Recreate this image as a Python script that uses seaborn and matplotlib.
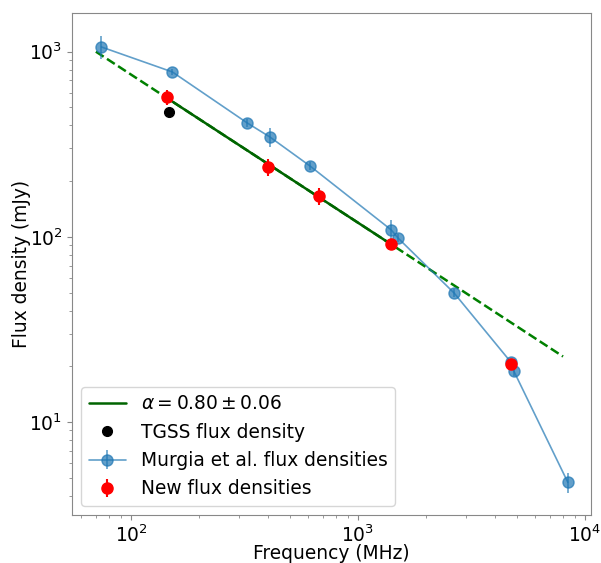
import numpy as np
import pandas as pd
import matplotlib
matplotlib.use("Agg")
import matplotlib.pyplot as plt
import seaborn as sns

# Murgia et al. flux densities
murgia_freq = [74, 152, 325, 409, 615, 1400, 1500, 2650, 4720, 4860, 8400]
murgia_flux = [1060, 777, 412, 346, 241, 109, 98.5, 49.7, 21.0, 18.8, 4.72]
murgia_err = [150, 30, 20, 40, 12, 15, 5, 2.5, 1.0, 1.0, 0.6]

# New flux densities
new_freq = [144, 401, 673, 1400, 4720]
new_flux = [569, 238, 166, 91.4, 20.5]
new_err = [55, 25, 17, 5, 1.2]

# TGSS
tgss_freq = [147]
tgss_flux = [472]

# Power-law fit
alpha = 0.80
fit_norm_freq = 70.0
fit_norm_flux = 1000.0
fit_dash_range = [70, 8000]
fit_solid_range = [147, 1400]

sns.set_style("ticks", rc={
    "axes.edgecolor": "#888888",
    "xtick.color": "#888888", "ytick.color": "#888888",
    "axes.labelcolor": "black", "text.color": "black",
    "xtick.major.size": 3.5, "ytick.major.size": 3.5,
    "xtick.minor.size": 2, "ytick.minor.size": 2,
    "xtick.major.pad": 3.5, "ytick.major.pad": 3.5,
})
plt.rcParams['font.family'] = ['DejaVu Sans']
fs = 13.4

fig, ax = plt.subplots(figsize=(6.01, 5.63), dpi=100)
fig.subplots_adjust(left=0.12, right=0.983, top=0.977, bottom=0.085)

def powerlaw(nu):
    return fit_norm_flux * (np.asarray(nu) / fit_norm_freq) ** (-alpha)

nu_d = np.logspace(np.log10(fit_dash_range[0]), np.log10(fit_dash_range[1]), 50)
nu_s = np.logspace(np.log10(fit_solid_range[0]), np.log10(fit_solid_range[1]), 50)
df_d = pd.DataFrame({"f": nu_d, "s": powerlaw(nu_d)})
df_s = pd.DataFrame({"f": nu_s, "s": powerlaw(nu_s)})

sns.lineplot(data=df_d, x="f", y="s", ax=ax, color="green", linestyle="--", lw=1.8, zorder=2)
sns.lineplot(data=df_s, x="f", y="s", ax=ax, color="darkgreen", lw=1.8, zorder=2)
fit_handle = ax.lines[-1]

tg, = ax.plot(tgss_freq, tgss_flux, 'o', color='black', ms=7, zorder=4)
mu = ax.errorbar(murgia_freq, murgia_flux, yerr=murgia_err, fmt='o-', color='#1f77b4',
                 alpha=0.7, ms=8, lw=1.2, zorder=3)
nw = ax.errorbar(new_freq, new_flux, yerr=new_err, fmt='o', color='red', ms=8, zorder=5)

ax.set_xscale('log')
ax.set_yscale('log')
ax.set_xlim(55, 10600)
ax.set_ylim(3.14, 1618)

ax.set_xlabel("Frequency (MHz)", fontsize=fs, labelpad=-1.5)
ax.set_ylabel("Flux density (mJy)", fontsize=fs, labelpad=-1)
ax.tick_params(axis='both', which='both', labelsize=fs, labelcolor='black')

ax.legend([fit_handle, tg, mu, nw],
          [r"$\alpha = 0.80 \pm 0.06$", "TGSS flux density",
           "Murgia et al. flux densities", "New flux densities"],
          loc='lower left', fontsize=fs, frameon=True)

fig.savefig("out.png", dpi=100)
